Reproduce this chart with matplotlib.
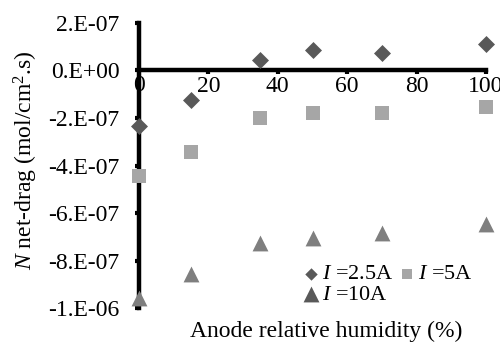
import matplotlib
matplotlib.use("Agg")
import matplotlib.pyplot as plt
from matplotlib.ticker import FixedLocator, FixedFormatter

plt.rcParams['font.family'] = ['Liberation Serif', 'DejaVu Serif']
plt.rcParams['mathtext.fontset'] = 'custom'
plt.rcParams['mathtext.rm'] = 'Liberation Serif'
plt.rcParams['mathtext.it'] = 'Liberation Serif:italic'

humidity = [0, 15, 35, 50, 70, 100]
n_2_5A = [-2.32e-7, -1.26e-7, 0.46e-7, 0.88e-7, 0.72e-7, 1.10e-7]
n_5A = [-4.46e-7, -3.45e-7, -1.98e-7, -1.81e-7, -1.77e-7, -1.55e-7]
n_10A = [-9.56e-7, -8.58e-7, -7.24e-7, -7.03e-7, -6.86e-7, -6.44e-7]

x_ticks = [20, 40, 60, 80, 100]
x_tick_labels = ['20', '40', '60', '80', '100']
y_ticks = [2e-7, 0, -2e-7, -4e-7, -6e-7, -8e-7, -1e-6]
y_tick_labels = ['2.E-07', '0.E+00', '-2.E-07', '-4.E-07', '-6.E-07', '-8.E-07', '-1.E-06']

FS = 17

fig = plt.figure(figsize=(5.0, 3.47), dpi=100)
ax = fig.add_axes([0.278, 0.112, 0.694, 0.822])

ax.scatter(humidity, n_2_5A, marker='D', s=75, color='#595959', zorder=5, clip_on=False, linewidths=0)
ax.scatter(humidity, n_5A, marker='s', s=105, color='#a6a6a6', zorder=5, clip_on=False, linewidths=0)
ax.scatter(humidity, n_10A, marker='^', s=130, color='#7f7f7f', zorder=5, clip_on=False, linewidths=0)

ax.set_xlim(0, 100)
ax.set_ylim(-1e-6, 2e-7)

ax.spines['top'].set_visible(False)
ax.spines['right'].set_visible(False)
ax.spines['left'].set_position(('data', 0))
ax.spines['bottom'].set_position(('data', 0))
for s in ('left', 'bottom'):
    ax.spines[s].set_linewidth(3.2)
    ax.spines[s].set_zorder(3)

ax.xaxis.set_major_locator(FixedLocator(x_ticks))
ax.xaxis.set_major_formatter(FixedFormatter(x_tick_labels))
ax.yaxis.set_major_locator(FixedLocator(y_ticks))
ax.yaxis.set_major_formatter(FixedFormatter(y_tick_labels))

ax.tick_params(axis='x', direction='out', length=3, width=3, labelsize=FS, pad=1)
ax.tick_params(axis='y', direction='out', length=3, width=3, labelsize=FS, pad=11)

# zero label at x origin
ax.text(0, -0.2e-7, '0', ha='center', va='top', fontsize=FS)

ax.set_xlabel('Anode relative humidity (%)', fontsize=FS)
ax.xaxis.set_label_coords(0.54, -0.045)
ax.set_ylabel('$N$ net-drag (mol/cm$^{2}$.s)', fontsize=FS)
ax.yaxis.set_label_coords(-0.285, 0.52)

h1 = ax.scatter([], [], marker='D', s=40, color='#595959', linewidths=0)
h2 = ax.scatter([], [], marker='s', s=55, color='#a6a6a6', linewidths=0)
h3 = ax.scatter([], [], marker='^', s=130, color='#595959', linewidths=0)
leg = ax.legend([h1, h3, h2], ['$I$ =2.5A', '$I$ =10A', '$I$ =5A'], ncol=2,
                loc='lower left', bbox_to_anchor=(0.444, -0.02), frameon=False,
                fontsize=16, handletextpad=0.1, columnspacing=0.2,
                handlelength=0.8, borderaxespad=0, labelspacing=0.0)

fig.savefig('out.png', dpi=100)
